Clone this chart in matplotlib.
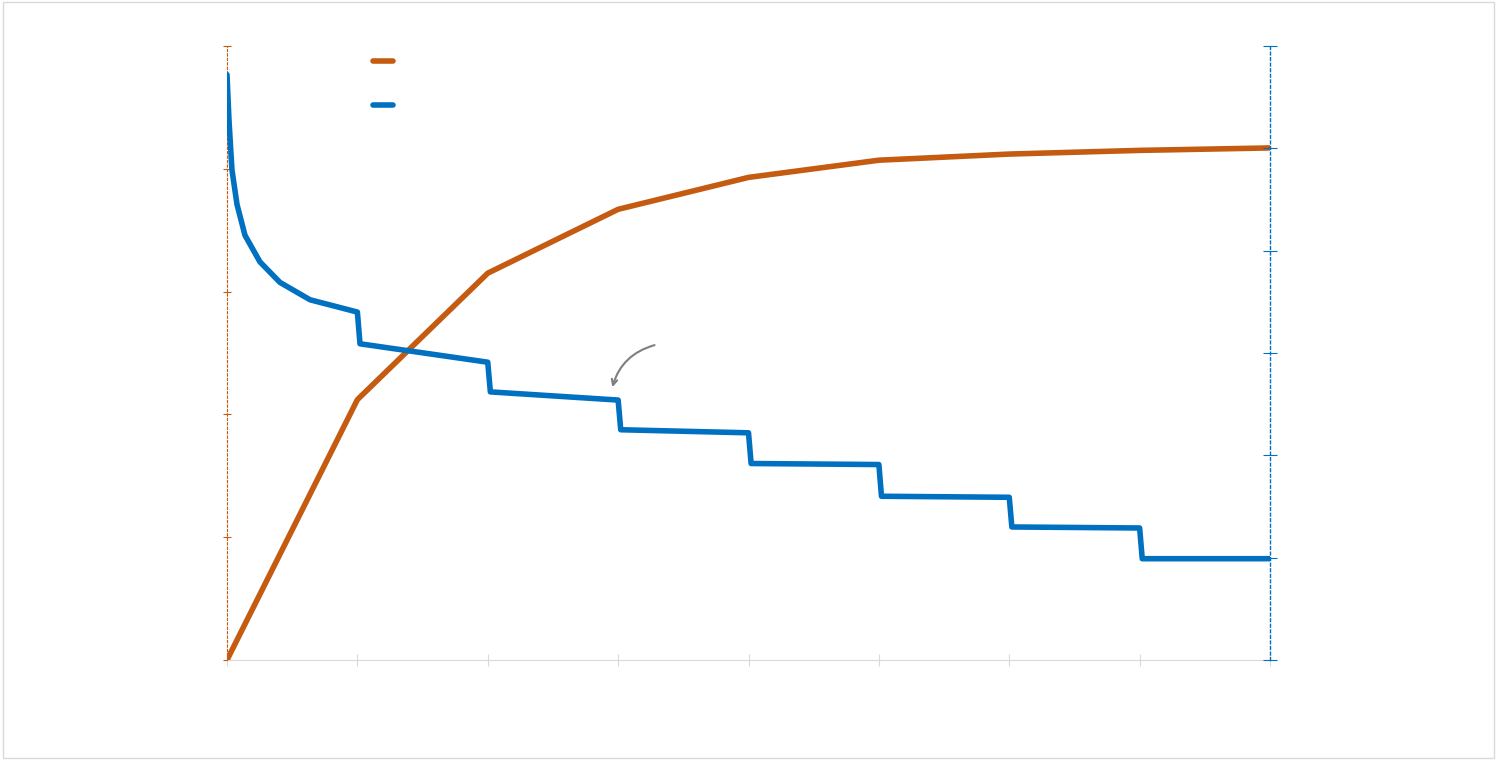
import matplotlib.pyplot as plt
from matplotlib.patches import Rectangle

# orange series (left axis)
x_orange = [0, 1, 2, 3, 4, 5, 6, 7, 8]
y_orange = [0, 2.12, 3.15, 3.67, 3.93, 4.07, 4.12, 4.15, 4.17]

# blue series (right axis), step-like decay
x_blue = [0, 0.015, 0.038, 0.077, 0.138, 0.253, 0.406, 0.637, 1.0, 1.02,
          2.0, 2.02, 3.0, 3.02, 4.0, 4.02, 5.0, 5.02, 6.0, 6.02, 7.0, 7.02, 8.0]
y_blue = [5.72, 5.28, 4.79, 4.45, 4.15, 3.89, 3.69, 3.52, 3.40, 3.09,
          2.91, 2.62, 2.54, 2.25, 2.22, 1.92, 1.91, 1.60, 1.59, 1.30, 1.29, 0.99, 0.99]

orange = '#c55a11'
blue = '#0070c0'

fig = plt.figure(figsize=(14.97, 7.6), dpi=100)
fig.patches.append(Rectangle((0.002, 0.002), 0.996, 0.996, transform=fig.transFigure,
                             fill=False, edgecolor='#d9d9d9', lw=1))
ax = fig.add_axes([227/1497, 100/760, 1043/1497, 614/760])
ax2 = ax.twinx()

ax.plot(x_orange, y_orange, color=orange, lw=4, solid_capstyle='round', zorder=3)
ax2.plot(x_blue, y_blue, color=blue, lw=4, solid_capstyle='round', zorder=3)

ax.set_xlim(0, 8)
ax.set_ylim(0, 5)
ax2.set_ylim(0, 6)
ax.set_xticks(range(9))
ax.set_yticks(range(6))
ax2.set_yticks(range(7))
for a in (ax, ax2):
    a.tick_params(labelleft=False, labelright=False, labelbottom=False)
    a.spines['top'].set_visible(False)
ax.spines['right'].set_visible(False)
ax.spines['left'].set_visible(False)
ax2.spines['left'].set_color(orange)
ax2.spines['left'].set_linestyle((0, (2, 2)))
ax2.spines['left'].set_linewidth(0.8)
ax2.spines['right'].set_color(blue)
ax2.spines['right'].set_linestyle((0, (2, 2)))
ax2.spines['right'].set_linewidth(1)
ax2.spines['bottom'].set_visible(False)
ax.spines['bottom'].set_color('#d9d9d9')
ax.tick_params(axis='x', color='#d9d9d9', length=8, direction='inout')
ax.tick_params(axis='y', color=orange, length=6, direction='inout', width=0.8)
ax2.tick_params(axis='y', color=blue, length=10, direction='inout', width=0.8)

# legend markers without text
ax.plot([1.12, 1.27], [4.88, 4.88], color=orange, lw=4, solid_capstyle='round', clip_on=False)
ax.plot([1.12, 1.27], [4.52, 4.52], color=blue, lw=4, solid_capstyle='round', clip_on=False)

# curved arrow annotation
ax.annotate('', xy=(2.95, 2.20), xytext=(3.30, 2.57),
            arrowprops=dict(arrowstyle='->', color='#7f7f7f', lw=1.5,
                            connectionstyle='arc3,rad=0.3'))

plt.savefig('out.png', dpi=100)
